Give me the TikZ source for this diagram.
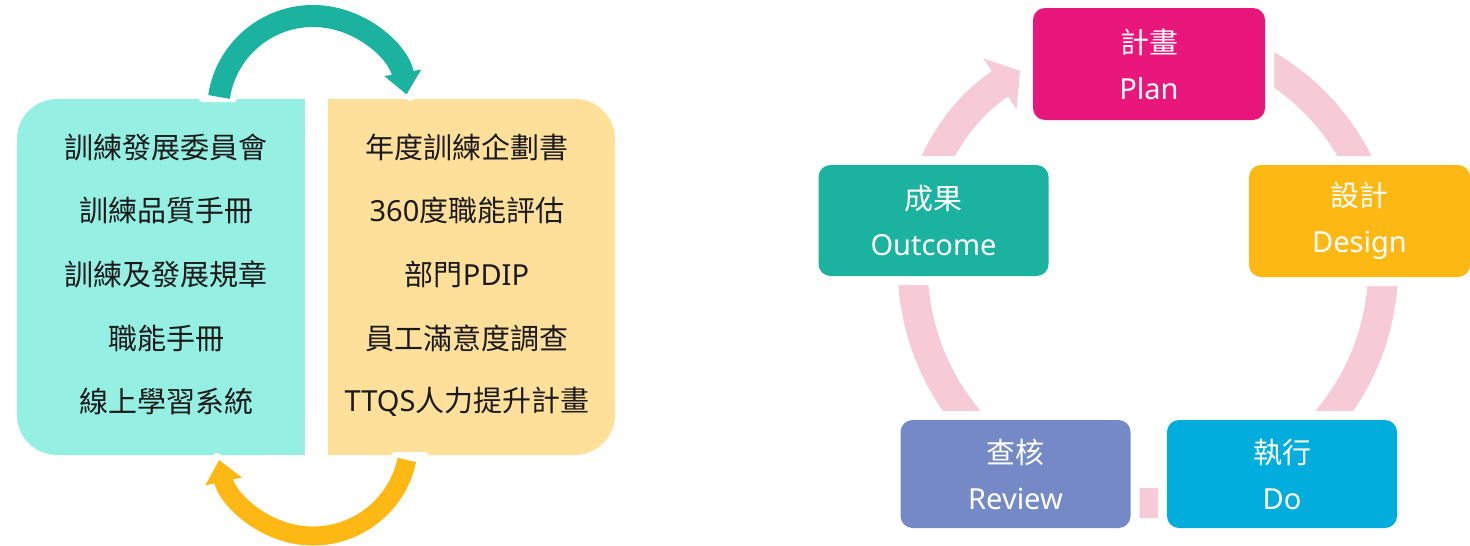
\documentclass[tikz,border=0pt]{standalone}
\usepackage{fontspec}
\setmainfont{Noto Sans}
\newfontfamily\cjk{Noto Sans CJK TC}
\usetikzlibrary{arrows.meta}

\definecolor{panelteal}{RGB}{150,239,227}
\definecolor{panelyellow}{RGB}{255,224,155}
\definecolor{outcometeal}{RGB}{27,179,159}
\definecolor{designyellow}{RGB}{253,184,19}
\definecolor{planpink}{RGB}{233,23,123}
\definecolor{doblue}{RGB}{0,173,220}
\definecolor{reviewblue}{RGB}{116,137,198}
\definecolor{ringpink}{RGB}{246,203,214}
\definecolor{textdark}{RGB}{26,26,26}

\begin{document}
\begin{tikzpicture}[x=1pt, y=-1pt,
    cyclebox/.style={rounded corners=12pt, minimum width=230pt, minimum height=110pt,
        inner sep=0pt, text=white, align=center, font=\fontsize{29}{46}\selectfont,
        preaction={draw=white, line width=18pt}},
    paneltext/.style={text=textdark, font=\fontsize{29}{35}\selectfont, inner sep=0pt}]
    \useasboundingbox (0,0) rectangle (1470,546);

    % two panels
    \fill[panelteal, rounded corners=40pt] (17,99) rectangle (305,455);
    \fill[panelteal] (200,99) rectangle (305,455);
    \fill[panelyellow, rounded corners=40pt] (328,99) rectangle (615,455);
    \fill[panelyellow] (328,99) rectangle (450,455);

    \foreach \t [count=\i from 0] in {訓練發展委員會, 訓練品質手冊, 訓練及發展規章, 職能手冊, 線上學習系統}
        \node[paneltext] (left\i) at (166, {147+63.7*\i}) {\cjk \t};
    \foreach \t [count=\i from 0] in {{\cjk 年度訓練企劃書}, 360{\cjk 度職能評估}, {\cjk 部門}PDIP, {\cjk 員工滿意度調查}, TTQS{\cjk 人力提升計畫}}
        \node[paneltext] (right\i) at (467, {147+63.7*\i}) {\t};

    % arrows between the panels
    \coordinate (topstart) at ([shift={(313,111)}]188.5:95);
    \coordinate (botstart) at ([shift={(313,440)}]12:96);
    \fill[white, rounded corners=3pt] (199,95) rectangle (237,102);
    \fill[white] (410,97) circle (4);
    \fill[white, rounded corners=3pt] (392,452) rectangle (428,459);
    \fill[white] (217,457) circle (4);
    \draw[outcometeal, line width=22pt, -{Triangle[width=36pt, length=22pt]}]
        (topstart) arc[start angle=188.5, end angle=350, radius=95];
    \draw[designyellow, line width=19pt, -{Triangle[width=36pt, length=22pt]}]
        (botstart) arc[start angle=12, end angle=168, radius=96];

    % cycle
    \draw[ringpink, line width=30pt, -{Triangle[width=60pt, length=24pt]}]
        ([shift={(1148,268)}]250:235) arc[start angle=250, end angle=597, radius=235];

    \node[cyclebox, fill=planpink, minimum width=232pt, minimum height=112pt] (plan) at (1149,64) {{\cjk 計畫}\\Plan};
    \node[cyclebox, fill=designyellow, minimum width=221pt, minimum height=112pt] (design) at (1359.5,221) {{\cjk 設計}\\Design};
    \node[cyclebox, fill=doblue, minimum height=108pt] (do) at (1282,474) {{\cjk 執行}\\Do};
    \node[cyclebox, fill=reviewblue, minimum height=108pt] (review) at (1015.5,474) {{\cjk 查核}\\Review};
    \node[cyclebox, fill=outcometeal, minimum height=111pt] (outcome) at (933.5,220.5) {{\cjk 成果}\\Outcome};
\end{tikzpicture}
\end{document}
